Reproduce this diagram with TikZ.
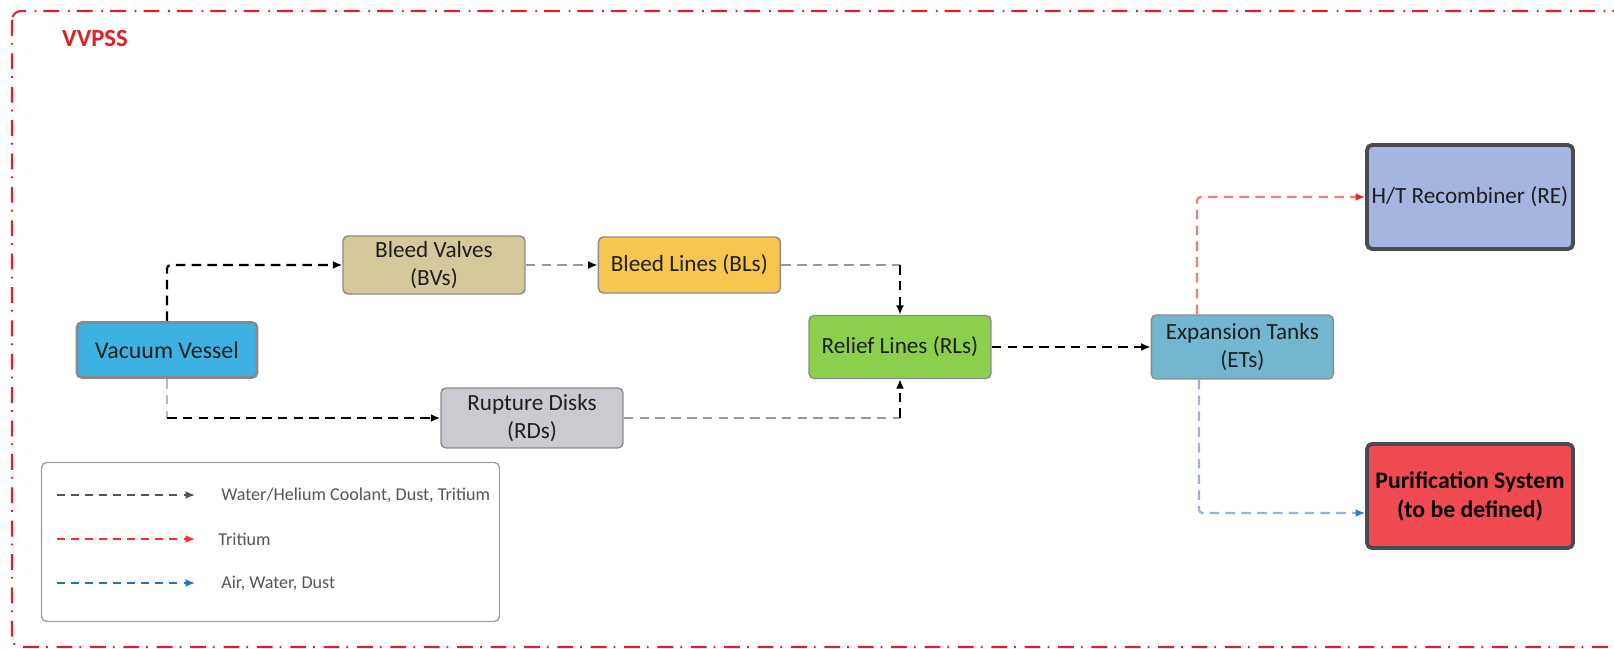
\documentclass[tikz,border=0pt]{standalone}
\usepackage{fontspec}
\setmainfont{Carlito}
\usetikzlibrary{positioning,arrows.meta}
\definecolor{FrameRed}{HTML}{E41E26}
\definecolor{VesselBlue}{HTML}{3EB1E3}
\definecolor{ValveKhaki}{HTML}{D5C99B}
\definecolor{LineYellow}{HTML}{F6C64E}
\definecolor{ReliefGreen}{HTML}{8CCF4D}
\definecolor{DiskGray}{HTML}{CACBD0}
\definecolor{TankBlue}{HTML}{72B6CF}
\definecolor{RecombBlue}{HTML}{A6B5DF}
\definecolor{PurifRed}{HTML}{F04B50}
\definecolor{BoxEdge}{HTML}{8A8A8A}
\definecolor{BigEdge}{HTML}{4A4A4F}
\definecolor{TextDark}{HTML}{1E1E1E}
\definecolor{FlowGray}{HTML}{9A9A9A}
\definecolor{FlowLight}{HTML}{B8B8B8}
\definecolor{TritiumPink}{HTML}{F47A7C}
\definecolor{TritiumRed}{HTML}{E8252A}
\definecolor{AirPale}{HTML}{94B2E2}
\definecolor{AirBlue}{HTML}{2B78D2}
\definecolor{KeyRed}{HTML}{FF2A2A}
\definecolor{KeyBlue}{HTML}{1E74D0}
\definecolor{KeyGray}{HTML}{555555}
\definecolor{LegendEdge}{HTML}{A0A0A0}

\begin{document}
\begin{tikzpicture}[x=.02cm,y=-.02cm,
                    tip/.style={-{Latex[length=1.9mm,width=1.6mm,#1]}},
                    basenode/.style={draw=BoxEdge,line width=.8pt,rounded corners=.1cm,align=center,inner sep=1pt,
                                     minimum width=3.64cm,minimum height=1.16cm,text=TextDark,font={\fontsize{13.2}{15.5}\selectfont}},
                    unit/.style={basenode,fill=#1},
                    bigunit/.style={basenode,draw=BigEdge,line width=2.2pt,minimum width=4.12cm,minimum height=2.08cm,fill=#1},
                    flow/.style={line width=1.25pt,dash pattern=on 5.5pt off 3.5pt,rounded corners=2pt},
                    blackflow/.style={flow,draw=black,tip=black},
                    grayflow/.style={flow,draw=FlowGray,tip=black},
                    redflow/.style={flow,draw=TritiumPink,tip=TritiumRed},
                    blueflow/.style={flow,draw=AirPale,tip=AirBlue},
                    keyflow/.style={line width=.9pt,dash pattern=on 4.5pt off 3.5pt,draw=#1,tip=#1},
                    keytext/.style={anchor=west,inner sep=0pt,text=KeyGray,font={\fontsize{10.3}{12}\selectfont}}]
  \useasboundingbox (0,0) rectangle (1614,649);
  \begin{scope}
    \clip (0,0) rectangle (1614,649);
    \draw[FrameRed,line width=1.2pt,rounded corners=.18cm,dash pattern=on 9pt off 4pt on 1pt off 5pt] (12,11) rectangle (1680,647);
  \end{scope}
  \node[text=FrameRed,font={\bfseries\fontsize{14}{16}\selectfont}] (title) at (95,39) {VVPSS};
  \node[unit=VesselBlue,line width=1.6pt,minimum width=3.6cm,minimum height=1.1cm,font={\fontsize{13.6}{16}\selectfont}] (vessel) at (167,350) {Vacuum Vessel};
  \node[unit=ValveKhaki] (bleed-valves) at (434,265) {Bleed Valves\\(BVs)};
  \node[unit=LineYellow,minimum height=1.12cm] (bleed-lines) [right=1.44cm of bleed-valves] {Bleed Lines (BLs)};
  \node[unit=DiskGray,minimum height=1.2cm] (rupture-disks) at (532,418) {Rupture Disks\\(RDs)};
  \node[unit=ReliefGreen,minimum height=1.26cm] (relief-lines) at (900,347) {Relief Lines (RLs)};
  \node[unit=TankBlue,minimum height=1.28cm] (expansion-tanks) [right=3.18cm of relief-lines] {Expansion Tanks\\(ETs)};
  \node[bigunit=RecombBlue] (recombiner) at (1470,197) {H/T Recombiner (RE)};
  \node[bigunit=PurifRed,font={\bfseries\fontsize{13.5}{16.5}\selectfont},text=black] (purification) at (1470,496) {Purification System\\(to be defined)};
  \node[draw=LegendEdge,line width=.8pt,rounded corners=.1cm,minimum width=9.16cm,minimum height=3.18cm] (legend) at (270.5,542) {};
  \node[keytext] (key-coolant) at (221,495) {Water/Helium Coolant, Dust, Tritium};
  \node[keytext] (key-tritium) at (218,539) {Tritium};
  \node[keytext] (key-air) at (221,583) {Air, Water, Dust};
  \node[coordinate] at (vessel |- bleed-valves) (n0) {};
  \node[coordinate] at (vessel |- rupture-disks) (n1) {};
  \node[coordinate] at (relief-lines |- bleed-lines) (n2) {};
  \node[coordinate] at (relief-lines |- rupture-disks) (n3) {};
  \node[coordinate] at (1197,197) (n4) {};
  \node[coordinate] at (1199,513) (n5) {};
  \draw[blackflow] (vessel) -- (n0) -- (bleed-valves);
  \draw[flow,draw=FlowLight] (vessel) -- (n1);
  \draw[blackflow] (n1) -- (rupture-disks);
  \draw[grayflow] (bleed-valves) -- (bleed-lines);
  \draw[flow,draw=FlowGray] (bleed-lines) -- (n2);
  \draw[blackflow] (n2) -- (relief-lines);
  \draw[flow,draw=FlowGray] (rupture-disks) -- (n3);
  \draw[blackflow] (n3) -- (relief-lines);
  \draw[blackflow] (relief-lines) -- (expansion-tanks);
  \draw[redflow] (expansion-tanks.north -| n4) -- (n4) -- (recombiner.west |- n4);
  \draw[blueflow] (expansion-tanks.south -| n5) -- (n5) -- (purification.west |- n5);
  \draw[keyflow=KeyGray] ([xshift=-3.28cm]key-coolant.west) -- ([xshift=-.52cm]key-coolant.west);
  \draw[keyflow=KeyRed] ([xshift=-3.22cm]key-tritium.west) -- ([xshift=-.46cm]key-tritium.west);
  \draw[keyflow=KeyBlue] ([xshift=-3.28cm]key-air.west) -- ([xshift=-.52cm]key-air.west);
\end{tikzpicture}
\end{document}
